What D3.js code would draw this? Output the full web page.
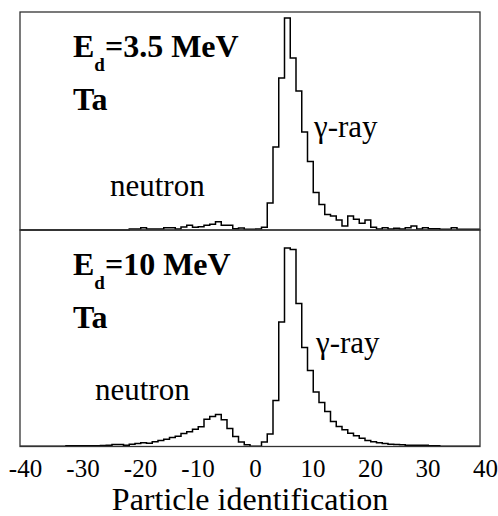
<!DOCTYPE html>
<html>
<head>
<meta charset="utf-8">
<script src="https://cdn.jsdelivr.net/npm/d3@7"></script>
</head>
<body style="margin:0">
<svg id="s" width="498" height="516" font-family="Liberation Serif"></svg>
<script>
// bin lower edges, one unit wide, -40 ... 39
var binEdges = d3.range(-40, 40);

// counts (arbitrary units) per bin, Ed = 3.5 MeV
var countsLow = [
    0, 0, 0, 0, 0, 0, 0, 0, 0, 0,
    0, 0, 0, 0, 0, 0, 0, 0, 0, 1,
    1, 2.3, 1, 1, 1, 2.3, 2.3, 1, 3, 4.7,
    2.7, 3.3, 4.7, 5.7, 8.3, 4.7, 4.7, 1.3, 2, 0.7,
    0.7, 1, 2.8, 27, 83, 152, 212, 172, 139, 98,
    68.5, 37.5, 25.5, 15.5, 14, 10, 4, 14, 10.7, 6.7,
    10, 2.7, 1, 2.3, 1, 1.7, 1, 2.3, 4, 1,
    2.3, 1.3, 1.3, 0.7, 0.7, 2.3, 0.7, 0.7, 0.7, 0.7
];

// counts (arbitrary units) per bin, Ed = 10 MeV
var countsHigh = [
    0.3, 0.3, 0.3, 0.3, 0.3, 0.3, 0.3, 0.3, 0.7, 0.7,
    0.7, 0.7, 0.7, 0.7, 1, 1.3, 2, 2, 1.3, 2.3,
    3, 3.7, 3.3, 4.7, 6, 7.3, 9, 10.3, 13, 14.7,
    17.3, 19.7, 27.3, 30, 32, 26.7, 18, 10, 4.5, 1.8,
    0.3, 0.3, 4.5, 12.5, 46, 124.5, 198.5, 197, 143, 99,
    76, 54.5, 44, 35, 25, 20, 16.7, 13.3, 10.7, 8.3,
    6, 4.7, 3.7, 3, 2.3, 2, 1.7, 1.3, 1.3, 1.3,
    1.3, 0.7, 0.7, 0.3, 0.3, 0.3, 0.3, 0.3, 0.3, 0.3
];

var xTicks = [-40, -30, -20, -10, 0, 10, 20, 30, 40];

var panels = [
    {counts: countsLow, energy: '=3.5 MeV', target: 'Ta', yMax: 218},
    {counts: countsHigh, energy: '=10 MeV', target: 'Ta', yMax: 216.5}
];

var svg = d3.select('#s');
var left = 20, right = 480;
var panelTop = [12, 230];
var panelBottom = [230, 446.5];

var xScale = d3.scaleLinear()
                .domain([-40, 40])
                .range([left, right]);

// label rows: text, x, y, size, bold
var labels = [
    ['Ta', 73, 110, 32, true],
    ['\u03b3-ray', 314, 137, 31, false],
    ['neutron', 110, 196, 31, false],
    ['Ta', 73, 328, 32, true],
    ['\u03b3-ray', 316, 353, 31, false],
    ['neutron', 95, 400, 31, false]
];

svg.selectAll('text.lab').data(labels).enter().append('text')
    .attr('class', 'lab')
    .attr('x', function (d) { return d[1]; })
    .attr('y', function (d) { return d[2]; })
    .style('font-family', function () { return 'Liberation Serif'; })
    .style('font-size', function (d) { return d[3] + 'px'; })
    .style('font-weight', function (d) { return d[4] ? 'bold' : 'normal'; })
    .text(function (d) { return d[0]; });

// E_d = ... headers
var eds = svg.selectAll('text.ed').data(panels).enter().append('text')
    .attr('class', 'ed')
    .attr('x', 73)
    .attr('y', function (d, k) { return k === 0 ? 57 : 275; })
    .style('font-family', function () { return 'Liberation Serif'; })
    .style('font-size', '32px')
    .style('font-weight', 'bold');
eds.append('tspan').text('E');
eds.append('tspan')
    .attr('dy', 14)
    .style('font-size', '19px')
    .text('d');
eds.append('tspan')
    .attr('dy', -14)
    .text(function (d) { return d.energy; });

panels.forEach(function (p, k)
{
    var yScale = d3.scaleLinear()
                    .domain([0, p.yMax])
                    .range([panelBottom[k], panelTop[k]]);

    var pts = binEdges.map(function (e, i) { return [e, p.counts[i]]; });
    pts.push([40, p.counts[p.counts.length - 1]]);

    var step = d3.line()
                .x(function (d) { return xScale(d[0]); })
                .y(function (d) { return yScale(d[1]); })
                .curve(d3.curveStepAfter);

    // histogram
    svg.append('path')
        .attr('d', step(pts))
        .attr('fill', 'none')
        .attr('stroke', '#000')
        .attr('stroke-width', 1.5);

    // frame
    svg.append('rect')
        .attr('x', left)
        .attr('y', panelTop[k])
        .attr('width', right - left)
        .attr('height', panelBottom[k] - panelTop[k])
        .attr('fill', 'none')
        .attr('stroke', '#333')
        .attr('stroke-width', 1.3);
});

// x axis, labels only
var xAxis = d3.axisBottom(xScale)
                .tickValues(xTicks)
                .tickSize(0)
                .tickPadding(0)
                .tickFormat(function (d) { return d < 0 ? '-' + Math.abs(d) : d; });

var gx = svg.append('g')
    .attr('transform', 'translate(0, ' + panelBottom[1] + ')')
    .call(xAxis);
gx.attr('font-family', 'Liberation Serif').attr('font-size', 25);
gx.select('.domain').remove();
gx.selectAll('text')
    .attr('dy', null)
    .attr('y', 30)
    .attr('dx', 5)
    .attr('fill', '#000');

svg.append('text')
    .attr('text-anchor', 'middle')
    .attr('x', (left + right) / 2)
    .attr('y', 510)
    .style('font-family', 'Liberation Serif')
    .style('font-size', '32px')
    .text('Particle identification');
</script>
</body>
</html>
